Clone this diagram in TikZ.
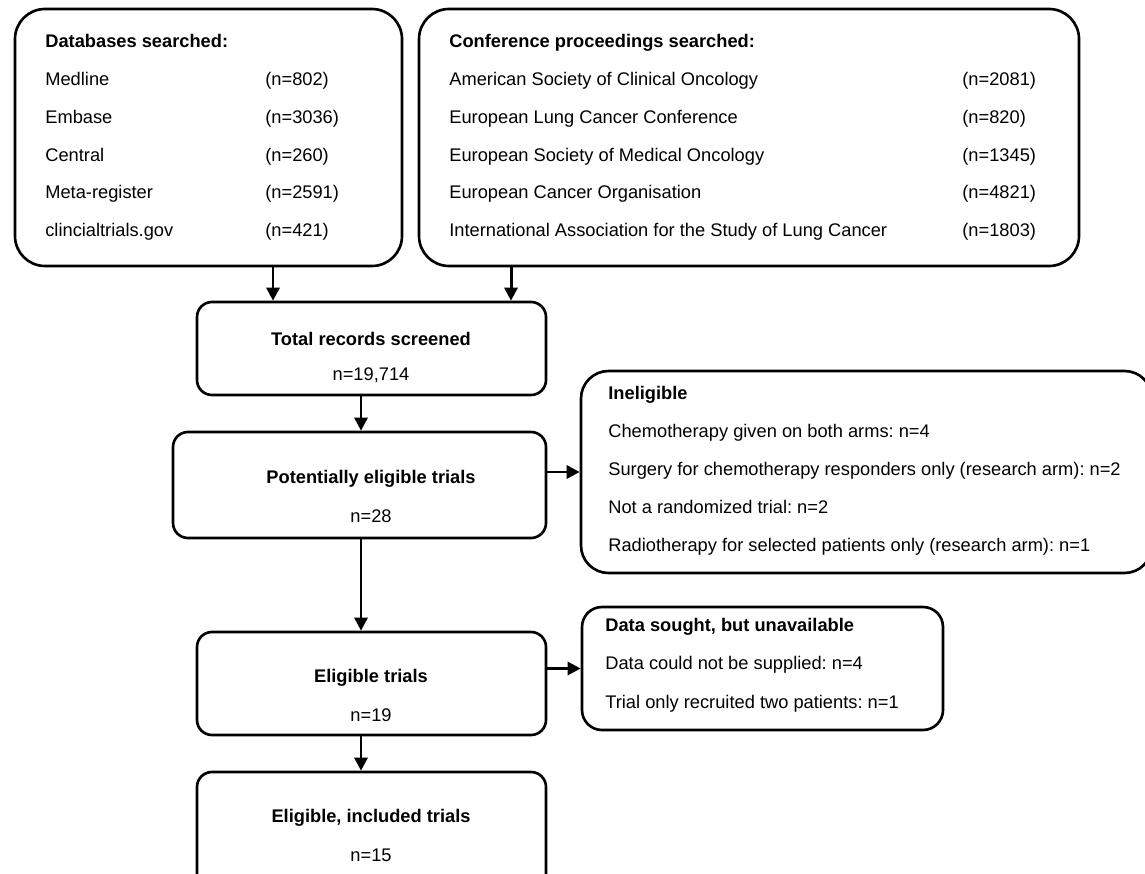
\documentclass[tikz,border=0pt]{standalone}
\usepackage{fontspec}
\setmainfont{Liberation Sans}
\usetikzlibrary{arrows.meta,fit}
\frenchspacing

\tikzset{
	box/.style={draw, line width=1.5pt, inner sep=0pt},
	arr/.style={line width=1.7pt, -{Triangle[length=7.5pt,width=7.5pt]}},
	txt/.style={inner sep=0pt, anchor=base west, font=\fontsize{10.4}{12}\selectfont},
	head/.style={txt, font=\fontsize{10.4}{12}\selectfont\bfseries},
	mid/.style={inner sep=0pt, anchor=base, font=\fontsize{10.4}{12}\selectfont},
	midhead/.style={mid, font=\fontsize{10.4}{12}\selectfont\bfseries}
}

\begin{document}
\begin{tikzpicture}[x=0.02cm,y=-0.02cm]
	\clip (0,0) rectangle (1145,874);

	\node[box, rounded corners=0.6cm, fit={(15,9) (402,266)}] (db) {};
	\node[box, rounded corners=0.6cm, fit={(419,9) (1079,266)}] (conf) {};
	\node[box, rounded corners=0.3cm, fit={(197,302) (546,395)}] (total) {};
	\node[box, rounded corners=0.3cm, fit={(173,432) (546,538)}] (potential) {};
	\node[box, rounded corners=0.55cm, fit={(581,371) (1152,573)}] (inelig) {};
	\node[box, rounded corners=0.3cm, fit={(197,632) (546,735)}] (elig) {};
	\node[box, rounded corners=0.4cm, fit={(582,607) (943,730)}] (sought) {};
	\node[box, rounded corners=0.3cm, fit={(197,772) (546,910)}] (incl) {};

	\node[head] (dbhead) at (45,48) {Databases searched:};
	\node[txt] (db1) at (45,85.75) {Medline};
	\node[txt] (db2) at (45,123.5) {Embase};
	\node[txt] (db3) at (45,161.25) {Central};
	\node[txt] (db4) at (45,199) {Meta-register};
	\node[txt] (db5) at (45,236.75) {clincialtrials.gov};
	\node[txt] (dbn1) at (265,85.75) {(n=802)};
	\node[txt] (dbn2) at (265,123.5) {(n=3036)};
	\node[txt] (dbn3) at (265,161.25) {(n=260)};
	\node[txt] (dbn4) at (265,199) {(n=2591)};
	\node[txt] (dbn5) at (265,236.75) {(n=421)};

	\node[head] (confhead) at (449,48) {Conference proceedings searched:};
	\node[txt] (conf1) at (449,85.75) {American Society of Clinical Oncology};
	\node[txt] (conf2) at (449,123.5) {European Lung Cancer Conference};
	\node[txt] (conf3) at (449,161.25) {European Society of Medical Oncology};
	\node[txt] (conf4) at (449,199) {European Cancer Organisation};
	\node[txt] (conf5) at (449,236.75) {International Association for the Study of Lung Cancer};
	\node[txt] (confn1) at (962,85.75) {(n=2081)};
	\node[txt] (confn2) at (962,123.5) {(n=820)};
	\node[txt] (confn3) at (962,161.25) {(n=1345)};
	\node[txt] (confn4) at (962,199) {(n=4821)};
	\node[txt] (confn5) at (962,236.75) {(n=1803)};

	\node[midhead] (totalhead) at (371,346) {Total records screened};
	\node[mid] (totaln) at (371,380) {n=19,714};
	\node[midhead] (potentialhead) at (371,483) {Potentially eligible trials};
	\node[mid] (potentialn) at (371,522) {n=28};
	\node[midhead] (elighead) at (371,682) {Eligible trials};
	\node[mid] (elign) at (371,721) {n=19};
	\node[midhead] (inclhead) at (371,822) {Eligible, included trials};
	\node[mid] (incln) at (371,861) {n=15};

	\node[head] (ineligib) at (608,399) {Ineligible};
	\node[txt] (inelig1) at (608,438) {Chemotherapy given on both arms: n=4};
	\node[txt] (inelig2) at (608,475.5) {Surgery for chemotherapy responders only (research arm): n=2};
	\node[txt] (inelig3) at (608,513) {Not a randomized trial: n=2};
	\node[txt] (inelig4) at (608,551) {Radiotherapy for selected patients only (research arm): n=1};

	\node[head] (soughthead) at (605,631) {Data sought, but unavailable};
	\node[txt] (sought1) at (605,669.5) {Data could not be supplied: n=4};
	\node[txt] (sought2) at (605,708) {Trial only recruited two patients: n=1};

	\coordinate (dbdrop) at (273,0);
	\coordinate (confdrop) at (511,0);
	\coordinate (spine) at (361,0);
	\draw[arr] (db.south -| dbdrop) -- (total.north -| dbdrop);
	\draw[arr] (conf.south -| confdrop) -- (total.north -| confdrop);
	\draw[arr] (total.south -| spine) -- (potential.north -| spine);
	\draw[arr] (potential.south -| spine) -- (elig.north -| spine);
	\draw[arr] (elig.south -| spine) -- (incl.north -| spine);
	\draw[arr] (potential.east |- inelig.west) -- (inelig.west);
	\draw[arr] (elig.east |- sought.west) -- (sought.west);
\end{tikzpicture}
\end{document}
